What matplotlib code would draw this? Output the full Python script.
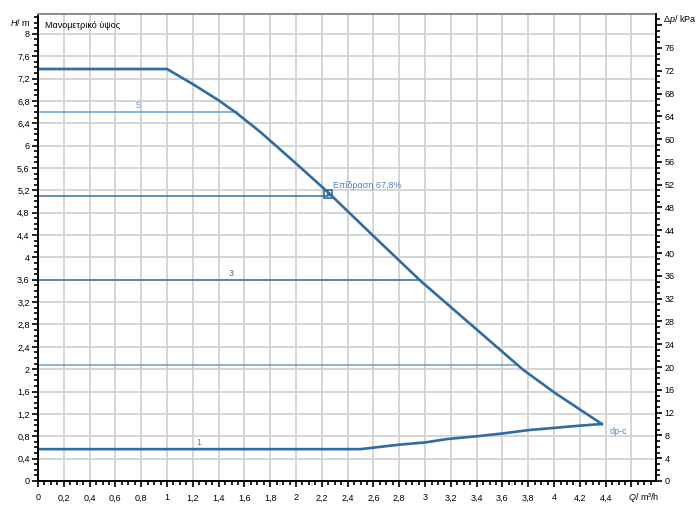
import matplotlib.pyplot as plt
import numpy as np
from matplotlib.ticker import MultipleLocator, FuncFormatter

plt.rcParams["font.family"] = ["Liberation Sans", "DejaVu Sans"]
plt.rcParams["mathtext.fontset"] = "custom"
plt.rcParams["mathtext.it"] = "Liberation Sans:italic"
plt.rcParams["mathtext.rm"] = "Liberation Sans"

# max curve (Q in m3/h, H in m)
max_q = [0.0, 1.0, 1.2, 1.4, 1.54, 1.72, 2.0, 2.25, 2.61, 2.97, 3.21, 3.40, 3.61, 3.76, 4.01, 4.37]
max_h = [7.37, 7.37, 7.10, 6.81, 6.58, 6.25, 5.68, 5.16, 4.36, 3.57, 3.09, 2.71, 2.29, 1.99, 1.57, 1.02]

# dp-c minimum curve
min_q = [0.0, 2.5, 2.8, 3.0, 3.17, 3.4, 3.6, 3.8, 4.0, 4.2, 4.37]
min_h = [0.57, 0.57, 0.65, 0.69, 0.75, 0.80, 0.85, 0.91, 0.95, 0.99, 1.02]

# constant speed levels: (head, end Q, label, colour)
levels = [
    (6.6, 1.55, "5", "#6a9fcf"),
    (5.1, 2.25, "", "#3b6e9e"),
    (3.6, 2.97, "3", "#3b6e9e"),
    (2.07, 3.73, "", "#6a9fcf"),
]
label_q = {"5": 0.78, "3": 1.5}

duty_q, duty_h = 2.25, 5.13
duty_text = "Επίδραση 67,8%"

KPA_PER_M = 9.81
blue = "#2e6ca4"

fig = plt.figure(figsize=(6.99, 5.12), dpi=100)
ax = fig.add_axes([38 / 699, 31 / 512, (656 - 38) / 699, (481 - 14) / 512])

ax.set_xlim(0, 4.79)
ax.set_ylim(0, 8.354)

ax.xaxis.set_major_locator(MultipleLocator(0.2))
ax.xaxis.set_minor_locator(MultipleLocator(0.05))
ax.yaxis.set_major_locator(MultipleLocator(0.4))
ax.yaxis.set_minor_locator(MultipleLocator(0.1))


def comma_fmt(v, pos):
    if v > 4.45 and v < 4.7:
        return ""
    s = f"{v:.1f}".rstrip("0").rstrip(".")
    return s.replace(".", ",")


def comma_fmt_y(v, pos):
    if v > 8.1:
        return ""
    s = f"{v:.1f}".rstrip("0").rstrip(".")
    return s.replace(".", ",")


ax.xaxis.set_major_formatter(FuncFormatter(comma_fmt))
ax.yaxis.set_major_formatter(FuncFormatter(comma_fmt_y))
ax.grid(True, which="major", color="#d2d2d2", linewidth=1.3)
ax.set_axisbelow(True)

ax.tick_params(which="both", direction="out", width=1.2, colors="black", labelsize=6.5)
ax.tick_params(which="major", length=4)
ax.tick_params(which="minor", length=3)
ax.tick_params(axis="y", pad=2)
ax.tick_params(axis="x", pad=5)

for side in ["left", "bottom"]:
    ax.spines[side].set_linewidth(1.4)
ax.spines["top"].set_color("#8a8a8a")
ax.spines["top"].set_linewidth(1.4)
ax.spines["right"].set_visible(False)

for h, q_end, lab, col in levels:
    ax.plot([0, q_end], [h, h], color=col, linewidth=1.1, solid_capstyle="butt")
    if lab:
        ax.text(label_q[lab], h + 0.04, lab, color=col, fontsize=6.5, ha="center", va="bottom")

ax.plot(max_q, max_h, color=blue, linewidth=1.9)
ax.plot(min_q, min_h, color=blue, linewidth=1.9)
ax.text(1.25, 0.61, "1", color="#4a86bf", fontsize=6.5, ha="center", va="bottom")
ax.text(4.43, 0.88, "dp-c", color="#4a86bf", fontsize=6.5, ha="left", va="center")

ax.plot([duty_q], [duty_h], marker="s", markersize=5.5, markerfacecolor="none",
        markeredgecolor=blue, markeredgewidth=1.2)
ax.plot([duty_q], [duty_h], marker="s", markersize=1.5, color=blue)
ax.text(duty_q + 0.04, duty_h + 0.07, duty_text, color="#4a86bf", fontsize=6.5,
        ha="left", va="bottom")

ax.text(0.012, 0.985, "Μανομετρικό ύψος", transform=ax.transAxes, fontsize=6.5,
        ha="left", va="top")
fig.text(10 / 699, 1 - 22 / 512, r"$\it{H}$/ m", fontsize=6.5, ha="left", va="center")
fig.text(628 / 699, 1 - 497 / 512, r"$\it{Q}$/ m³/h", fontsize=6.5, ha="left", va="center")

# right axis in kPa
ax2 = ax.twinx()
ax2.set_ylim(0, 8.354 * KPA_PER_M)
ax2.yaxis.set_major_locator(MultipleLocator(4))
ax2.yaxis.set_minor_locator(MultipleLocator(1))
ax2.yaxis.set_major_formatter(FuncFormatter(lambda v, p: "" if v > 78 else f"{v:.0f}"))
ax2.tick_params(which="both", direction="out", width=1.2, labelsize=6.5, pad=2)
ax2.tick_params(which="major", length=4)
ax2.tick_params(which="minor", length=3)
for side in ["left", "bottom", "top"]:
    ax2.spines[side].set_visible(False)
ax2.spines["right"].set_linewidth(1.4)
fig.text(663 / 699, 1 - 20 / 512, r"$\it{Δp}$/ kPa", fontsize=6.5, ha="left", va="center")

fig.savefig("out.png", dpi=100)
